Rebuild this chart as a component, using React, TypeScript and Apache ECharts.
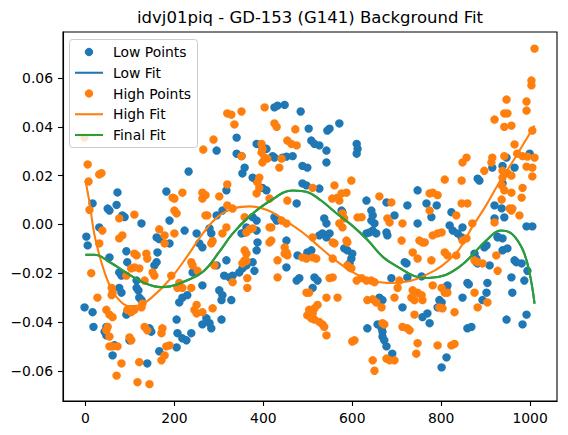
import React, { useEffect, useRef } from "react";
import * as echarts from "echarts";

const titleText = "idvj01piq - GD-153 (G141) Background Fit";
const xTicks = [0, 200, 400, 600, 800, 1000];
const yTicks = [-0.06, -0.04, -0.02, 0, 0.02, 0.04, 0.06];

const lowPoints: number[][] = [
  [232, 0.0217], [295, 0.0303], [72, 0.0131], [182, 0.0135], [317, 0.014],
  [16, 0.0086], [50, 0.0065], [54, 0.0057], [70, 0.008], [83, 0.0037], [88, 0.003], [126, 0.0004], [31, -0.0012],
  [2, -0.005], [5, -0.0086], [54, -0.0135], [92, -0.011], [94, -0.0155], [160, -0.0053], [166, -0.006], [162, -0.0115],
  [160, -0.0155], [155, -0.0168], [76, -0.0197], [81, -0.021], [76, -0.026], [81, -0.028], [115, -0.026], [119, -0.027],
  [121, -0.03], [115, -0.023], [-2, -0.034], [16, -0.036], [18, -0.042], [47, -0.042], [43, -0.044], [47, -0.0455],
  [65, -0.0495], [61, -0.0537], [99, -0.0475], [92, -0.037], [94, -0.036], [126, -0.031], [144, -0.0426], [148, -0.044],
  [139, -0.057], [166, -0.052], [205, -0.039], [207, -0.0446], [218, -0.0467], [227, -0.0475], [238, -0.0446], [205, -0.0504],
  [189, -0.0078], [189, 0.0016], [223, -0.0025], [211, -0.032], [218, -0.03], [229, -0.029], [250, -0.0037], [256, -0.0078],
  [263, -0.0094], [241, -0.0197], [263, -0.025], [272, -0.0385], [279, -0.0405], [283, -0.0426], [263, -0.041], [279, -0.0016],
  [283, -0.0037], [295, 0.0037], [308, 0.0057], [301, -0.027], [308, -0.029], [306, -0.031], [306, -0.039], [312, -0.021],
  [317, -0.0147], [295, -0.0168],
  [425, 0.048], [432, 0.0487], [448, 0.049], [484, 0.0463], [502, 0.0393], [544, 0.0385], [549, 0.0393], [571, 0.0414],
  [340, 0.0356], [385, 0.033], [398, 0.0315], [407, 0.031], [508, 0.0344], [515, 0.033], [526, 0.0324], [542, 0.0303],
  [610, 0.033], [612, 0.031], [610, 0.029], [340, 0.029], [351, 0.028], [421, 0.028], [425, 0.0274], [466, 0.028],
  [443, 0.0274], [452, 0.0278], [358, 0.0233], [353, 0.0209], [376, 0.0192], [385, 0.018], [398, 0.015], [407, 0.014],
  [488, 0.024], [499, 0.0233], [542, 0.0254], [488, 0.0168], [497, 0.016], [475, 0.0086], [526, 0.0147], [632, 0.0098],
  [677, 0.009], [643, 0.0057], [646, 0.0037], [643, 0.0016], [650, 0.0004], [537, 0.0025], [542, 0.0004], [576, 0.0057],
  [578, 0.005], [376, 0.003], [385, 0.0016], [425, 0.003], [430, 0.0016], [362, -0.0012],
  [328, -0.031], [331, -0.021], [346, -0.0197], [353, -0.018], [362, -0.0168], [376, -0.0155], [380, -0.019], [324, -0.0217],
  [351, -0.0037], [358, -0.0033], [385, -0.0025], [385, -0.0106], [387, -0.0074], [452, -0.0066], [452, -0.0176], [477, -0.0127],
  [475, -0.023], [481, -0.022], [499, -0.0115], [508, -0.0106], [515, -0.0217], [522, -0.023], [511, -0.026], [526, -0.0045],
  [533, -0.0037], [542, -0.0053], [549, -0.0037], [582, -0.0098], [589, -0.0106], [600, -0.012], [598, -0.014], [594, -0.016],
  [632, -0.0037], [639, -0.0033], [646, -0.0025], [654, -0.0037], [677, -0.0033], [679, -0.0045], [634, -0.0426], [657, -0.041],
  [666, -0.0426], [668, -0.044], [668, -0.046], [672, -0.0475], [677, -0.05], [690, -0.053], [661, -0.03], [668, -0.031],
  [915, 0.0233], [938, 0.024], [947, 0.0274], [965, 0.0233], [999, 0.029], [938, 0.0168], [882, 0.0188], [886, 0.018],
  [747, 0.014], [823, 0.005], [767, 0.0086], [790, 0.0078], [724, 0.0078], [778, 0.003], [920, 0.0078], [936, 0.0066],
  [942, 0.0029], [920, 0.0025], [695, 0.0037], [747, 0.0004], [819, -0.0004], [848, -0.0012], [992, -0.0008], [1005, -0.0008],
  [826, -0.0025], [837, -0.0037], [846, -0.0053], [927, -0.0053], [938, -0.0057], [938, -0.0106], [949, -0.0098], [965, -0.0147],
  [969, -0.0155], [981, -0.016], [994, -0.019], [987, -0.023], [958, -0.0217], [960, -0.028], [904, -0.024], [902, -0.028],
  [893, -0.031], [859, -0.024], [862, -0.0246], [848, -0.03], [814, -0.025], [812, -0.026], [796, -0.031], [801, -0.032],
  [792, -0.034], [859, -0.0426], [868, -0.042], [947, -0.039], [992, -0.037], [983, -0.041], [812, -0.0545], [801, -0.0586],
  [769, -0.0365], [774, -0.0405], [758, -0.038], [713, -0.034], [722, -0.016], [718, -0.0155], [756, -0.0213], [724, -0.0217],
  [688, -0.022], [909, -0.0168], [879, -0.0155], [882, -0.016], [897, -0.0094], [902, -0.0086], [875, -0.012], [879, -0.014],
  [927, -0.005],
];

const highPoints: number[][] = [
  [-2, 0.0356], [5, 0.0246], [7, 0.0176], [31, 0.0205], [36, 0.021], [265, 0.0307], [288, 0.0348], [196, 0.011],
  [200, 0.0106], [218, 0.013], [263, 0.013], [270, 0.012], [263, 0.0106], [301, 0.0115],
  [9, 0.006], [38, -0.0025], [76, 0.0025], [110, 0.004], [76, -0.0057], [83, -0.0045], [200, -0.0037], [166, -0.002],
  [178, -0.0045], [178, -0.0078], [274, 0.0037], [270, 0.0037], [308, -0.0037], [317, -0.0012], [283, -0.0078], [286, -0.0068],
  [205, 0.0045], [200, 0.0057], [319, 0.0078],
  [31, -0.0078], [13, -0.02], [27, -0.03], [59, -0.026], [61, -0.028], [59, -0.029], [47, -0.035], [54, -0.037],
  [61, -0.038], [50, -0.042], [47, -0.0434], [54, -0.046], [54, -0.05], [61, -0.05], [72, -0.05], [81, -0.057],
  [70, -0.062], [117, -0.0647], [144, -0.0655], [121, -0.0565], [99, -0.0463], [103, -0.0475], [110, -0.012], [115, -0.0127],
  [137, -0.012], [139, -0.014], [103, -0.018], [110, -0.0176], [121, -0.018], [151, -0.0197], [155, -0.021], [133, -0.023],
  [92, -0.021], [94, -0.035], [103, -0.036], [110, -0.035], [126, -0.034], [128, -0.0325], [133, -0.042], [139, -0.0434],
  [173, -0.0426], [171, -0.0446], [182, -0.05], [189, -0.0496], [178, -0.0537], [171, -0.0557], [193, -0.021], [211, -0.024],
  [207, -0.026], [238, -0.026], [218, -0.026], [238, -0.0155], [241, -0.0168], [252, -0.019], [245, -0.035], [250, -0.0365],
  [263, -0.036], [250, -0.033], [290, -0.0168], [286, -0.0344],
  [319, 0.0455], [328, 0.045], [351, 0.0463], [403, 0.048], [425, 0.0414], [430, 0.04], [335, 0.041], [472, 0.039],
  [454, 0.0344], [463, 0.033], [475, 0.0324], [396, 0.033], [398, 0.031], [396, 0.0295], [403, 0.0274], [409, 0.027],
  [398, 0.0254], [351, 0.028], [441, 0.027], [436, 0.0233], [391, 0.0192], [387, 0.0172], [391, 0.015], [385, 0.0127],
  [319, 0.0164], [331, 0.0065], [358, 0.003], [414, 0.0106], [454, 0.0098], [441, 0.0016], [452, 0.0004], [414, -0.0012],
  [511, 0.015], [560, 0.016], [598, 0.018], [555, 0.0106], [567, 0.011], [576, 0.0127], [587, 0.013], [571, 0.0098],
  [578, 0.0045], [582, 0.0025], [571, 0.0004], [621, 0.003], [612, 0.0029], [661, 0.0115], [578, -0.0012],
  [362, -0.0033], [369, -0.002], [376, -0.0016], [418, -0.0012], [414, -0.0074], [418, -0.0066], [448, -0.0094], [448, -0.012],
  [452, -0.0115], [454, -0.0127], [432, -0.0147], [432, -0.0217], [358, -0.0106], [362, -0.012], [358, -0.0147], [353, -0.016],
  [362, -0.015], [331, -0.0237], [364, -0.022], [364, -0.026], [488, -0.0135], [497, -0.014], [511, -0.0135], [519, -0.014],
  [511, -0.0053], [556, -0.0074], [560, -0.0078], [556, -0.014], [549, -0.022], [556, -0.0217], [497, -0.028], [503, -0.028],
  [542, -0.03], [567, -0.03], [503, -0.035], [515, -0.0344], [522, -0.033], [511, -0.0365], [499, -0.0373], [508, -0.0385],
  [515, -0.039], [526, -0.04], [533, -0.041], [537, -0.042], [542, -0.0455], [600, -0.048], [605, -0.0475], [587, -0.0066],
  [589, -0.0074], [589, -0.0168], [594, -0.0176], [598, -0.018], [610, -0.023], [621, -0.022], [632, -0.023], [643, -0.023],
  [650, -0.0237], [634, -0.031], [646, -0.0307], [654, -0.032], [666, -0.034], [668, -0.0405], [672, -0.041], [646, -0.0557],
  [650, -0.06], [677, -0.055],
  [1010, 0.0721], [1003, 0.059], [1003, 0.057], [947, 0.0512], [992, 0.0504], [992, 0.0467], [942, 0.0455], [949, 0.0455],
  [920, 0.043], [942, 0.04], [958, 0.0405], [1005, 0.0385], [965, 0.0328], [971, 0.029], [983, 0.028], [994, 0.0278],
  [1010, 0.0274], [942, 0.028], [915, 0.0274], [913, 0.0254], [992, 0.0237], [1005, 0.0233], [1005, 0.0197], [938, 0.022],
  [949, 0.021], [958, 0.02], [938, 0.0192], [936, 0.016], [942, 0.014], [958, 0.013], [936, 0.0102], [958, 0.0057],
  [983, 0.015], [981, 0.011], [976, 0.0037], [897, 0.022], [857, 0.0274], [848, 0.0254], [846, 0.018], [808, 0.0184],
  [846, 0.0086], [859, 0.0086], [834, 0.0037], [774, 0.0127], [781, 0.013], [792, 0.012], [774, 0.0057], [688, 0.009],
  [679, 0.0025], [684, 0.0008], [713, 0.0004], [870, 0.0004], [920, 0.0008], [954, 0.0065], [960, 0.0065],
  [711, -0.0066], [751, -0.0066], [758, -0.0074], [763, -0.0074], [781, -0.0045], [792, -0.0037], [801, -0.0033], [736, -0.0115],
  [747, -0.014], [778, -0.0147], [808, -0.0115], [814, -0.0127], [834, -0.0127], [848, -0.0066], [857, -0.0057], [875, -0.0147],
  [882, -0.0155], [893, -0.016], [927, -0.019], [924, -0.0127], [875, -0.028], [882, -0.034], [904, -0.032], [706, -0.023],
  [702, -0.026], [695, -0.03], [736, -0.027], [740, -0.028], [747, -0.028], [756, -0.029], [758, -0.031], [740, -0.031],
  [733, -0.03], [781, -0.025], [801, -0.026], [808, -0.028], [814, -0.028], [796, -0.034], [803, -0.0344], [830, -0.036],
  [740, -0.037], [713, -0.042], [724, -0.0426], [729, -0.0434], [747, -0.0487], [744, -0.053], [792, -0.0496], [823, -0.0496],
  [830, -0.049], [684, -0.0557], [695, -0.0557],
];

const highFit: number[][] = [
  [0, 0.018], [10, 0.008], [20, -0.004], [40, -0.018], [60, -0.027], [80, -0.0318], [100, -0.0335], [120, -0.0332],
  [150, -0.0298], [190, -0.0225], [230, -0.0128], [265, -0.0035], [300, 0.0035], [335, 0.0066], [370, 0.0074], [410, 0.0058],
  [450, 0.0015], [490, -0.0035], [530, -0.0098], [570, -0.0158], [610, -0.0205], [650, -0.0233], [690, -0.024], [730, -0.0232],
  [760, -0.0212], [800, -0.0172], [840, -0.0103], [870, -0.001], [900, 0.0075], [930, 0.017], [960, 0.0255], [985, 0.033],
  [1010, 0.0405],
];

const finalFit: number[][] = [
  [0, -0.0125], [20, -0.0124], [55, -0.0155], [90, -0.0196], [130, -0.0238], [170, -0.0257], [190, -0.0254], [230, -0.0228],
  [265, -0.0193], [300, -0.0115], [330, -0.004], [370, 0.0035], [414, 0.0095], [466, 0.0139], [500, 0.0132], [530, 0.0098],
  [565, 0.0045], [600, -0.0005], [635, -0.0065], [670, -0.0135], [706, -0.0178], [740, -0.0212], [770, -0.022], [810, -0.0207],
  [840, -0.0175], [865, -0.0135], [900, -0.0068], [935, -0.0025], [960, -0.004], [985, -0.011], [1000, -0.021], [1010, -0.0325],
];

const lowFit: number[][] = finalFit.map((p) => [p[0], p[1]]);

const BLUE = "#1f77b4";
const ORANGE = "#ff7f0e";
const GREEN = "#2ca02c";
const FONT = "DejaVu Sans";

export default function App() {
  const ref = useRef<HTMLDivElement>(null);
  useEffect(() => {
    if (!ref.current) return;
    const chart = echarts.init(ref.current, null, { renderer: "svg" });
    const lw = 2.08;
    const Z = 200;
    const legendItems = [
      { label: "Low Points", kind: "point", color: BLUE },
      { label: "Low Fit", kind: "line", color: BLUE },
      { label: "High Points", kind: "point", color: ORANGE },
      { label: "High Fit", kind: "line", color: ORANGE },
      { label: "Final Fit", kind: "line", color: GREEN },
    ];
    const legendChildren: any[] = [
      {
        type: "rect",
        z: Z,
        shape: { x: 69.5, y: 39.5, width: 128, height: 108, r: 3 },
        style: { fill: "rgba(255,255,255,0.8)", stroke: "#cccccc", lineWidth: 1 },
      },
    ];
    legendItems.forEach((it, i) => {
      const cy = 52 + i * 20.75;
      if (it.kind === "point") {
        legendChildren.push({ type: "circle", z: Z + 1, shape: { cx: 89, cy, r: 4.17 }, style: { fill: it.color } });
      } else {
        legendChildren.push({
          type: "line",
          z: Z + 1,
          shape: { x1: 75, y1: cy, x2: 103, y2: cy },
          style: { stroke: it.color, lineWidth: lw },
        });
      }
      legendChildren.push({
        type: "text",
        z: Z + 1,
        x: 113,
        y: cy,
        style: { text: it.label, font: `13.9px '${FONT}'`, fill: "#000", align: "left", verticalAlign: "middle" },
      });
    });

    const fmtY = (v: number) => {
      const s = Math.abs(v).toFixed(2);
      return v < -1e-9 ? "\u2212" + s : s;
    };

    chart.setOption({
      animation: false,
      backgroundColor: "#fff",
      grid: {
        left: 63,
        top: 32,
        width: 494,
        height: 369,
        show: true,
        borderColor: "#000",
        borderWidth: 1.1,
        backgroundColor: "transparent",
      },
      xAxis: {
        type: "value",
        min: -50.5,
        max: 1060.5,
        splitLine: { show: false },
        axisLine: { show: true, onZero: false, lineStyle: { color: "#000", width: 1.1 } },
        axisTick: { show: true, inside: false, length: 5, lineStyle: { color: "#000", width: 1.1 }, customValues: xTicks },
        axisLabel: {
          customValues: xTicks,
          margin: 10,
          color: "#000",
          fontFamily: FONT,
          fontSize: 13.9,
          formatter: (v: number) => String(Math.round(v)),
        },
      },
      yAxis: {
        type: "value",
        min: -0.0724,
        max: 0.0789,
        splitLine: { show: false },
        axisLine: { show: true, onZero: false, lineStyle: { color: "#000", width: 1.1 } },
        axisTick: { show: true, inside: false, length: 5, lineStyle: { color: "#000", width: 1.1 }, customValues: yTicks },
        axisLabel: {
          customValues: yTicks,
          margin: 10,
          color: "#000",
          fontFamily: FONT,
          fontSize: 13.9,
          formatter: fmtY,
        },
      },
      series: [
        {
          name: "Low Points",
          type: "scatter",
          data: lowPoints,
          symbol: "circle",
          symbolSize: 8.4,
          itemStyle: { color: BLUE, opacity: 1 },
        },
        {
          name: "Low Fit",
          type: "line",
          data: lowFit,
          smooth: 0.4,
          showSymbol: false,
          symbol: "none",
          lineStyle: { color: BLUE, width: lw },
        },
        {
          name: "High Points",
          type: "scatter",
          data: highPoints,
          symbol: "circle",
          symbolSize: 8.4,
          itemStyle: { color: ORANGE, opacity: 1 },
        },
        {
          name: "High Fit",
          type: "line",
          data: highFit,
          smooth: 0.4,
          showSymbol: false,
          symbol: "none",
          lineStyle: { color: ORANGE, width: lw },
        },
        {
          name: "Final Fit",
          type: "line",
          data: finalFit,
          smooth: 0.4,
          showSymbol: false,
          symbol: "none",
          lineStyle: { color: GREEN, width: lw },
        },
      ],
      graphic: [
        {
          type: "text",
          x: 310,
          y: 17,
          z: Z,
          style: { text: titleText, font: `16.5px '${FONT}'`, fill: "#000", align: "center", verticalAlign: "middle" },
        },
        { type: "group", z: Z, children: legendChildren },
      ],
    });
    return () => chart.dispose();
  }, []);
  return <div ref={ref} style={{ position: "fixed", left: 0, top: 0, width: 568, height: 435 }} />;
}
